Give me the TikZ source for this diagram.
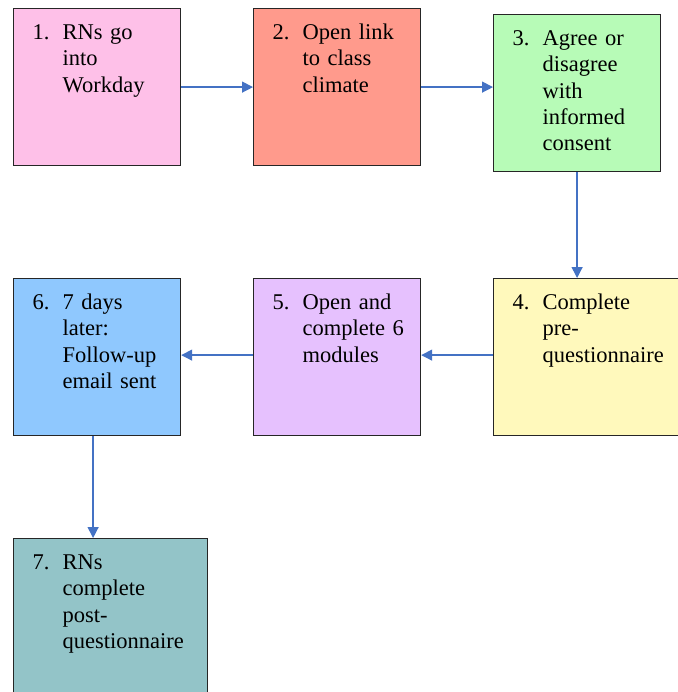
\documentclass[tikz,border=0pt]{standalone}
\usepackage{fontspec}
\setmainfont{Liberation Serif}
\usetikzlibrary{arrows.meta}

\definecolor{pinkbox}{RGB}{254,192,232}
\definecolor{salmonbox}{RGB}{255,154,140}
\definecolor{greenbox}{RGB}{183,251,183}
\definecolor{yellowbox}{RGB}{255,249,188}
\definecolor{lavenderbox}{RGB}{230,193,254}
\definecolor{bluebox}{RGB}{143,200,254}
\definecolor{tealbox}{RGB}{147,196,200}
\definecolor{arrowblue}{RGB}{68,114,196}

\newcommand{\steplines}[2]{\hspace*{19pt}\begin{tabular}[t]{@{}p{30pt}@{}l@{}}#1 & #2\end{tabular}}

\begin{document}
\begin{tikzpicture}[
    x=1pt,
    y=-1pt,
    stepbox/.style={draw=black!85, line width=1.2pt, inner sep=0pt,
        text width=167pt, align=left, anchor=north west,
        text height=31pt, text depth=126pt,
        font=\fontsize{22.5}{26.3}\selectfont},
    flow/.style={draw=arrowblue, line width=1.3pt,
        -{Triangle[length=11pt,width=11pt]}}
]
\useasboundingbox (0,0) rectangle (677,692);

\node[stepbox, fill=pinkbox] (s1) at (13,8)
    {\steplines{1.}{RNs go\\ & into\\ & Workday}};
\node[stepbox, fill=salmonbox] (s2) at (253,8)
    {\steplines{2.}{Open link\\ & to class\\ & climate}};
\node[stepbox, fill=greenbox] (s3) at (493,14)
    {\steplines{3.}{Agree or\\ & disagree\\ & with\\ & informed\\ & consent}};
\node[stepbox, fill=yellowbox, text width=200pt] (s4) at (493,278)
    {\steplines{4.}{Complete\\ & pre-\\ & questionnaire}};
\node[stepbox, fill=lavenderbox] (s5) at (253,278)
    {\steplines{5.}{Open and\\ & complete 6\\ & modules}};
\node[stepbox, fill=bluebox] (s6) at (13,278)
    {\steplines{6.}{7 days\\ & later:\\ & Follow-up\\ & email sent}};
\node[stepbox, fill=tealbox, text width=194pt, text depth=140pt] (s7) at (13,538)
    {\steplines{7.}{RNs\\ & complete\\ & post-\\ & questionnaire}};

\draw[flow] (s1.east) -- (s2.west);
\draw[flow] (s2.east) -- (s2.east -| s3.west);
\draw[flow] (s3.south) -- (s3.south |- s4.north);
\draw[flow] ([yshift=2pt]s5.east -| s4.west) -- ([yshift=2pt]s5.east);
\draw[flow] ([yshift=2pt]s5.west) -- ([yshift=2pt]s6.east);
\draw[flow] ([xshift=-4pt]s6.south) -- ([xshift=-4pt]s6.south |- s7.north);

\end{tikzpicture}
\end{document}
